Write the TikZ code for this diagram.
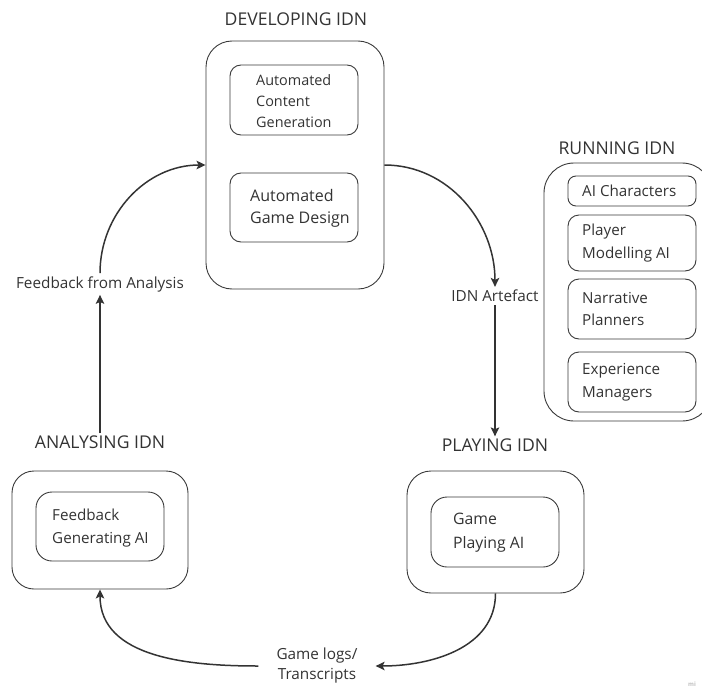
\documentclass[tikz,border=0pt]{standalone}
\usepackage{fontspec}
\setmainfont{Open Sans}
\usetikzlibrary{arrows.meta}
\definecolor{ink}{HTML}{333333}
\definecolor{edge}{HTML}{3A3A3A}
\begin{document}
\begin{tikzpicture}[x=1pt,y=-1pt,
  stage/.style={draw=edge, line width=0.9pt, rounded corners=26pt, inner sep=0pt},
  tool/.style={draw=edge, line width=0.9pt, rounded corners=11pt, inner sep=0pt, minimum width=128pt},
  title/.style={text=ink, font=\fontsize{17.6}{20}\selectfont, inner sep=2pt},
  body/.style={text=ink, font=\fontsize{15.2}{22.5}\selectfont, align=left, anchor=west, inner sep=0pt},
  lab/.style={text=ink, font=\fontsize{15.3}{20}\selectfont, align=center, inner sep=3pt},
  flow/.style={draw=ink, line width=1.5pt, -{Stealth[length=9pt,width=8.5pt,inset=2pt]}}]
\useasboundingbox (0,0) rectangle (702,688);

% Developing stage
\node[title] (devtitle) at (296,19) {DEVELOPING IDN};
\node[stage, minimum width=178pt, minimum height=248pt] (dev) at (295,165) {};
\node[tool, minimum height=70pt] (acg) at (294,100) {};
\node[body, font=\fontsize{14.4}{21}\selectfont] (acgtxt) at (256,101) {Automated\\Content\\Generation};
\node[tool, minimum height=69pt] (agd) at (294,207.5) {};
\node[body, font=\fontsize{16}{22}\selectfont] (agdtxt) at (250,208) {Automated\\Game Design};

% Running stage
\node[title] (runtitle) at (617,148) {RUNNING IDN};
\node[stage, rounded corners=30pt, minimum width=168pt, minimum height=258pt] (run) at (628,292) {};
\node[tool, rounded corners=8pt, minimum height=30pt] (aich) at (632,191) {};
\node[body] (aichtxt) at (582,191) {AI Characters};
\node[tool, minimum height=56pt] (pmai) at (632,243) {};
\node[body] (pmaitxt) at (582,243) {Player\\Modelling AI};
\node[tool, minimum height=60pt] (narr) at (632,309) {};
\node[body] (narrtxt) at (582,309) {Narrative\\Planners};
\node[tool, minimum height=60pt] (expm) at (632,382) {};
\node[body] (expmtxt) at (582,382) {Experience\\Managers};

% Playing stage
\node[lab] (artefact) at (495,296) {IDN Artefact};
\node[title] (playtitle) at (495,445) {PLAYING IDN};
\node[stage, rounded corners=24pt, minimum width=177pt, minimum height=122pt] (play) at (495.5,532) {};
\node[tool, rounded corners=16pt, minimum height=70pt] (gpai) at (495,532) {};
\node[body, font=\fontsize{15.8}{24}\selectfont] (gpaitxt) at (453,533) {Game\\Playing AI};

% Analysing stage
\node[lab, inner xsep=18pt] (logs) at (317,666) {Game logs/\\Transcripts};
\node[title] (anatitle) at (100,442) {ANALYSING IDN};
\node[stage, rounded corners=22pt, minimum width=176pt, minimum height=118pt] (ana) at (100,530) {};
\node[tool, rounded corners=16pt, minimum height=69pt] (fgai) at (100,526.5) {};
\node[body] (fgaitxt) at (52,528) {Feedback\\Generating AI};
\node[lab] (fb) at (100,284) {Feedback from Analysis};

% Watermark
\node[text=black!25, font=\fontsize{6}{6}\selectfont\bfseries, inner sep=0pt] (mark) at (692,684) {mi};

% Cycle of connectors
\draw[flow] (fb.north) to[out=90,in=180] (dev.west);
\draw[flow] (dev.east) to[out=0,in=90] (artefact.north);
\draw[flow] (artefact.south) -- (playtitle.north);
\draw[flow] (play.south) to[out=-90,in=0] (logs.east);
\draw[flow] (logs.west) to[out=180,in=-90] (ana.south);
\draw[flow] (anatitle.north) -- (fb.south);
\end{tikzpicture}
\end{document}
